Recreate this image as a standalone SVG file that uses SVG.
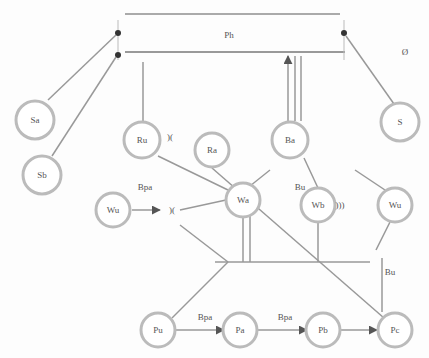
<svg xmlns="http://www.w3.org/2000/svg" width="429" height="358" viewBox="0 0 429 358">
<defs>
<marker id="ah" viewBox="0 0 10 10" refX="9" refY="5" markerWidth="6" markerHeight="6" orient="auto-start-reverse"><path d="M0,0 L10,5 L0,10 z" fill="#555"/></marker>
</defs>
<style>
.n circle{fill:#fff;stroke:#bbb;stroke-width:3}
.n text,.lb{font-family:"Liberation Serif",serif;font-size:9px;fill:#555;text-anchor:middle}
.c line,.c path{stroke:#999;stroke-width:1.5;fill:none}
.d{fill:#333}
</style>
<rect width="429" height="358" fill="#fdfdfd"/>
<g id="frame">
<line x1="125" y1="14" x2="340" y2="14" stroke="#aaa" stroke-width="2"/>
<line x1="125" y1="52" x2="345" y2="52" stroke="#999" stroke-width="2"/>
<line x1="118" y1="20" x2="118" y2="60" stroke="#bbb"/>
<line x1="344" y1="20" x2="344" y2="60" stroke="#bbb"/>
<text class="lb" x="229" y="38" font-size="11">Ph</text>
<circle class="d" cx="118" cy="33" r="3"/>
<circle class="d" cx="118" cy="55" r="3"/>
<circle class="d" cx="344" cy="33" r="3"/>
</g>
<g class="c" id="connectors">
<line x1="116" y1="35" x2="48" y2="100"/>
<line x1="116" y1="57" x2="52" y2="156"/>
<line x1="346" y1="36" x2="394" y2="104"/>
<line x1="143" y1="62" x2="143" y2="121"/>
<line x1="288" y1="121" x2="288" y2="56" marker-end="url(#ah)" stroke="#555"/>
<line x1="295" y1="121" x2="295" y2="56" stroke="#ccc"/>
<line x1="301" y1="121" x2="301" y2="56" stroke="#ccc"/>
<line x1="132" y1="210" x2="160" y2="210" marker-end="url(#ah)" stroke="#555"/>
<line x1="180" y1="210" x2="226" y2="200"/>
<line x1="158" y1="156" x2="228" y2="190"/>
<line x1="212" y1="168" x2="384" y2="318"/>
<line x1="180" y1="225" x2="228" y2="262"/>
<line x1="228" y1="262" x2="172" y2="318"/>
<line x1="215" y1="262" x2="370" y2="262" stroke="#888"/>
<line x1="243" y1="215" x2="243" y2="262"/>
<line x1="250" y1="215" x2="250" y2="262"/>
<line x1="318" y1="222" x2="318" y2="262"/>
<line x1="304" y1="158" x2="318" y2="188"/>
<line x1="390" y1="222" x2="376" y2="250"/>
<line x1="382" y1="258" x2="382" y2="312"/>
<line x1="175" y1="330" x2="224" y2="330" marker-end="url(#ah)" stroke="#666"/>
<line x1="256" y1="330" x2="307" y2="330" marker-end="url(#ah)" stroke="#666"/>
<line x1="340" y1="330" x2="377" y2="330" marker-end="url(#ah)" stroke="#666"/>
<line x1="270" y1="170" x2="250" y2="186"/>
<line x1="355" y1="170" x2="385" y2="190"/>
</g>
<g id="nodeSa" class="n"><circle cx="35" cy="120" r="19"/><text x="35" y="123">Sa</text></g>
<g id="nodeSb" class="n"><circle cx="42" cy="175" r="19"/><text x="42" y="178">Sb</text></g>
<g id="nodeS" class="n"><circle cx="400" cy="122" r="19"/><text x="400" y="125">S</text></g>
<g id="nodeRu" class="n"><circle cx="142" cy="140" r="18"/><text x="142" y="143">Ru</text></g>
<g id="nodeRa" class="n"><circle cx="212" cy="150" r="17"/><text x="212" y="153">Ra</text></g>
<g id="nodeBa" class="n"><circle cx="290" cy="140" r="18"/><text x="290" y="143">Ba</text></g>
<g id="nodeWu" class="n"><circle cx="113" cy="210" r="17"/><text x="113" y="213">Wu</text></g>
<g id="nodeWa" class="n"><circle cx="243" cy="200" r="17"/><text x="243" y="203">Wa</text></g>
<g id="nodeWb" class="n"><circle cx="318" cy="205" r="17"/><text x="318" y="208">Wb</text></g>
<g id="nodeWc" class="n"><circle cx="395" cy="205" r="17"/><text x="395" y="208">Wu</text></g>
<g id="nodeP1" class="n"><circle cx="158" cy="330" r="17"/><text x="158" y="333">Pu</text></g>
<g id="nodeP2" class="n"><circle cx="240" cy="330" r="17"/><text x="240" y="333">Pa</text></g>
<g id="nodeP3" class="n"><circle cx="323" cy="330" r="17"/><text x="323" y="333">Pb</text></g>
<g id="nodeP4" class="n"><circle cx="395" cy="330" r="17"/><text x="395" y="333">Pc</text></g>
<g id="labels">
<text class="lb" x="145" y="190">Bpa</text>
<text class="lb" x="300" y="190">Bu</text>
<text class="lb" x="205" y="320">Bpa</text>
<text class="lb" x="285" y="320">Bpa</text>
<text class="lb" x="390" y="275">Bu</text>
<text class="lb" x="170" y="140">)(</text>
<text class="lb" x="172" y="213">)(</text>
<text class="lb" x="340" y="208">)))</text>
<text class="lb" x="405" y="55">Ø</text>
</g>
</svg>
